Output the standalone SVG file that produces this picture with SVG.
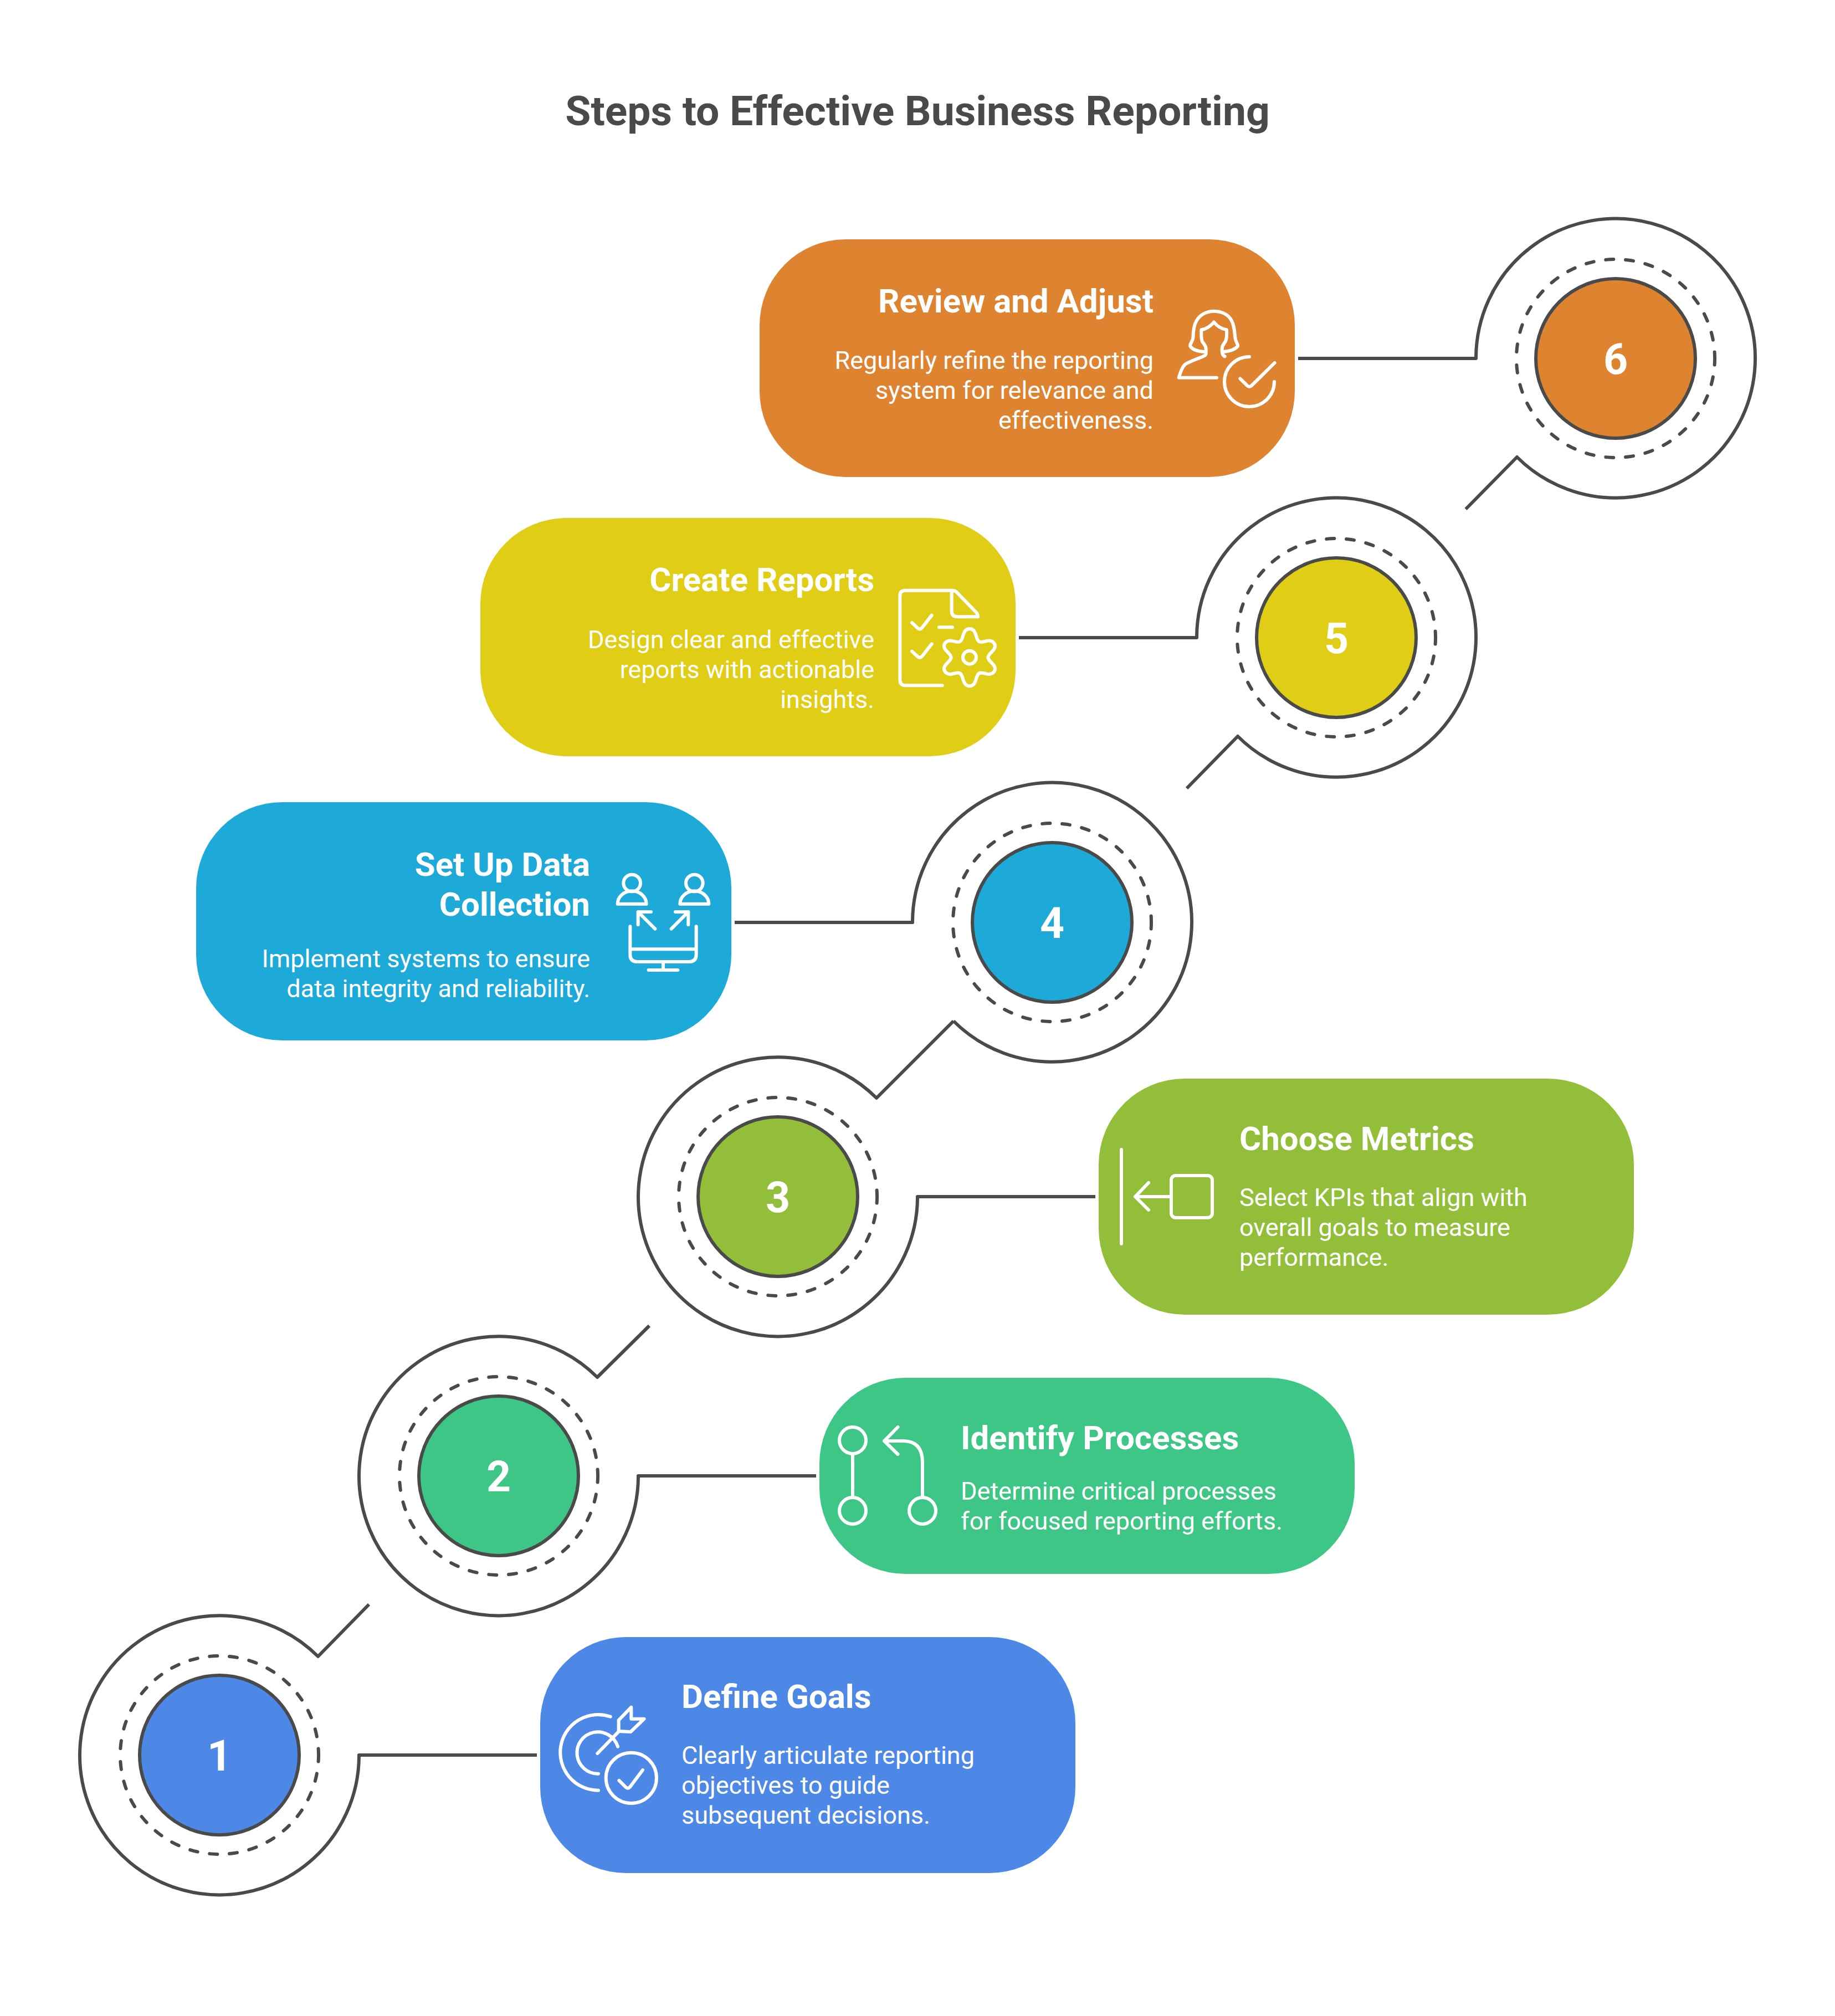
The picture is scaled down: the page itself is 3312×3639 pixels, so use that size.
<svg xmlns="http://www.w3.org/2000/svg" width="3312" height="3639" viewBox="0 0 3312 3639">
<style>
text{font-family:Roboto,"Liberation Sans",sans-serif;fill:#fff}
.title{font-size:75px;font-weight:700;fill:#4a4a4a;text-anchor:middle}
.h{font-size:60px;font-weight:700}
.b{font-size:45px;font-weight:400}
.n{font-size:77px;font-weight:700;text-anchor:middle}
.e{text-anchor:end}
.conn{fill:none;stroke:#4a4a4a;stroke-width:6;stroke-linejoin:round}
.dash{fill:none;stroke:#4a4a4a;stroke-width:6;stroke-linecap:round;stroke-dasharray:14 21.9;stroke-dashoffset:-12}
.disc{stroke:#4a4a4a;stroke-width:6}
.ic{fill:none;stroke:#fff;stroke-linecap:round;stroke-linejoin:round}
</style>
<rect width="3312" height="3639" fill="#fff"/>
<text class="title" x="1656" y="226">Steps to Effective Business Reporting</text>
<g id="connectors">
<path class="conn" d="M969,3168H648A252,252 0 1 1 574,2990L666,2896"/>
<path class="conn" d="M1473,2664H1152A252,252 0 1 1 1078,2486L1172,2393"/>
<path class="conn" d="M1977,2160H1656A252,252 0 1 1 1582,1982L1721,1843"/>
<path class="conn" d="M1326,1665H1647A252,252 0 1 1 1721,1843"/>
<path class="conn" d="M1839,1151H2160A252,252 0 1 1 2234,1329L2142,1423"/>
<path class="conn" d="M2343,647H2664A252,252 0 1 1 2738,825L2645.5,919"/>
</g>
<g id="step-1">
<path class="dash" d="M217,3168A179,179 0 0 1 575,3168"/><path class="dash" d="M217,3168A179,179 0 0 0 575,3168"/>
<circle class="disc" cx="396" cy="3168" r="144" fill="#4e88e7"/>
<text class="n" x="396" y="3196">1</text>
<rect x="975" y="2955" width="966" height="426" rx="155" fill="#4e88e7"/>
<g class="ic" stroke-width="18" transform="translate(990,3060) scale(.3333)">
<path d="M270,515A205,205 0 1 1 335,116"/><path d="M270,425A113,113 0 1 1 375,278"/>
<path d="M265,315L380,197"/><path d="M380,195V135L448,65V128H518L445,198Z"/>
<circle cx="448" cy="448" r="137"/><path d="M382,462L418,498Q430,510 442,496L510,405"/>
</g>
<text class="h" x="1230" y="3083">Define Goals</text>
<text class="b" x="1230" y="3184">Clearly articulate reporting</text>
<text class="b" x="1230" y="3238">objectives to guide</text>
<text class="b" x="1230" y="3292">subsequent decisions.</text>
</g>
<g id="step-2">
<path class="dash" d="M721,2664A179,179 0 0 1 1079,2664"/><path class="dash" d="M721,2664A179,179 0 0 0 1079,2664"/>
<circle class="disc" cx="900" cy="2664" r="144" fill="#3ec686"/>
<text class="n" x="900" y="2692">2</text>
<rect x="1479" y="2487" width="966" height="354" rx="155" fill="#3ec686"/>
<g class="ic" stroke-width="6">
<circle cx="1539" cy="2600" r="24"/><circle cx="1539" cy="2727" r="24"/><circle cx="1665" cy="2727" r="24"/>
<path d="M1539,2624V2703M1665,2703V2640Q1665,2601 1630,2601H1596M1620.5,2576L1596,2601L1620.5,2625"/>
</g>
<text class="h" x="1734" y="2616">Identify Processes</text>
<text class="b" x="1734" y="2707">Determine critical processes</text>
<text class="b" x="1734" y="2761">for focused reporting efforts.</text>
</g>
<g id="step-3">
<path class="dash" d="M1225,2160A179,179 0 0 1 1583,2160"/><path class="dash" d="M1225,2160A179,179 0 0 0 1583,2160"/>
<circle class="disc" cx="1404" cy="2160" r="144" fill="#93be3a"/>
<text class="n" x="1404" y="2188">3</text>
<rect x="1983" y="1947" width="966" height="426" rx="155" fill="#93be3a"/>
<g class="ic" stroke-width="6">
<path d="M2024,2075V2245M2114,2160H2049M2073,2135L2049,2160L2073,2184"/>
<rect x="2114" y="2122" width="74" height="76" rx="8"/>
</g>
<text class="h" x="2237" y="2076">Choose Metrics</text>
<text class="b" x="2237" y="2177">Select KPIs that align with</text>
<text class="b" x="2237" y="2231">overall goals to measure</text>
<text class="b" x="2237" y="2285">performance.</text>
</g>
<g id="step-4">
<path class="dash" d="M1720,1665A179,179 0 0 1 2078,1665"/><path class="dash" d="M1720,1665A179,179 0 0 0 2078,1665"/>
<circle class="disc" cx="1899" cy="1665" r="144" fill="#1eaad9"/>
<text class="n" x="1899" y="1693">4</text>
<rect x="354" y="1448" width="966" height="430" rx="155" fill="#1eaad9"/>
<g class="ic" stroke-width="18" transform="translate(1050,1520) scale(.3333)">
<circle cx="272" cy="222" r="46"/><path d="M194,335A78,70 0 0 1 350,335Z"/>
<circle cx="610" cy="222" r="46"/><path d="M532,335A78,70 0 0 1 688,335Z"/>
<path d="M397,470L305,378M375,378H305V448M485,470L577,378M507,378H577V448"/>
<path d="M262,457V610Q262,648 300,648H582Q620,648 620,610V457M262,580H620M441,648V693M362,693H520"/>
</g>
<text class="h e" x="1065" y="1581">Set Up Data</text>
<text class="h e" x="1065" y="1653">Collection</text>
<text class="b e" x="1065" y="1746">Implement systems to ensure</text>
<text class="b e" x="1065" y="1800">data integrity and reliability.</text>
</g>
<g id="step-5">
<path class="dash" d="M2233,1151A179,179 0 0 1 2591,1151"/><path class="dash" d="M2233,1151A179,179 0 0 0 2591,1151"/>
<circle class="disc" cx="2412" cy="1151" r="144" fill="#e0cd15"/>
<text class="n" x="2412" y="1179">5</text>
<rect x="867" y="935" width="966" height="430" rx="155" fill="#e0cd15"/>
<g class="ic" stroke-width="18" transform="translate(1580,1030) scale(.3333)">
<path d="M362,622H165Q133,622 133,590V135Q133,107 165,107H415Q430,107 440,117L545,225Q555,235 555,250H445Q413,250 413,220V107"/>
<path d="M198,282L228,310Q240,322 252,310L305,242M198,437L228,465Q240,477 252,465L305,397M345,307H417"/>
<circle cx="510" cy="470" r="36"/>
<path d="M510,315C535,315 540,335 548,360C555,385 565,390 585,385C605,380 620,375 635,385C655,400 650,420 635,435C615,455 610,465 610,470C610,480 620,490 635,505C650,520 655,540 635,555C620,565 605,560 585,555C565,550 555,555 548,580C540,605 535,625 510,625C485,625 480,605 472,580C465,555 455,550 435,555C415,560 400,565 385,555C365,540 370,520 385,505C400,490 410,480 410,470C410,465 405,455 385,435C370,420 365,400 385,385C400,375 415,380 435,385C455,390 465,385 472,360C480,335 485,315 510,315Z"/>
</g>
<text class="h e" x="1578" y="1067">Create Reports</text>
<text class="b e" x="1578" y="1170">Design clear and effective</text>
<text class="b e" x="1578" y="1224">reports with actionable</text>
<text class="b e" x="1578" y="1278">insights.</text>
</g>
<g id="step-6">
<path class="dash" d="M2737,647A179,179 0 0 1 3095,647"/><path class="dash" d="M2737,647A179,179 0 0 0 3095,647"/>
<circle class="disc" cx="2916" cy="647" r="144" fill="#de8431"/>
<text class="n" x="2916" y="675">6</text>
<rect x="1371" y="432" width="966" height="429" rx="155" fill="#de8431"/>
<g class="ic" stroke-width="18" transform="translate(2080,520) scale(.3333)">
<path d="M280,345C240,342 215,330 205,315C200,305 215,295 220,270C222,240 222,205 240,175C260,140 300,125 333,125C370,125 410,140 428,175C445,205 445,240 448,270C452,295 465,305 462,315C450,330 425,342 385,345"/>
<path d="M333,185C315,205 290,222 265,226C265,240 262,270 270,290C280,305 290,310 290,330V355C290,365 280,368 270,372C240,385 195,400 175,415C160,430 150,460 143,485H348"/>
<path d="M333,185C350,205 375,222 402,226C402,240 405,270 395,290C385,305 377,310 377,330C377,350 378,365 392,370"/>
<path d="M525,372A135,135 0 1 0 660,507"/><path d="M475,490L515,530Q525,537 535,530L662,405"/>
</g>
<text class="h e" x="2082" y="564">Review and Adjust</text>
<text class="b e" x="2082" y="666">Regularly refine the reporting</text>
<text class="b e" x="2082" y="720">system for relevance and</text>
<text class="b e" x="2082" y="774">effectiveness.</text>
</g>
</svg>
